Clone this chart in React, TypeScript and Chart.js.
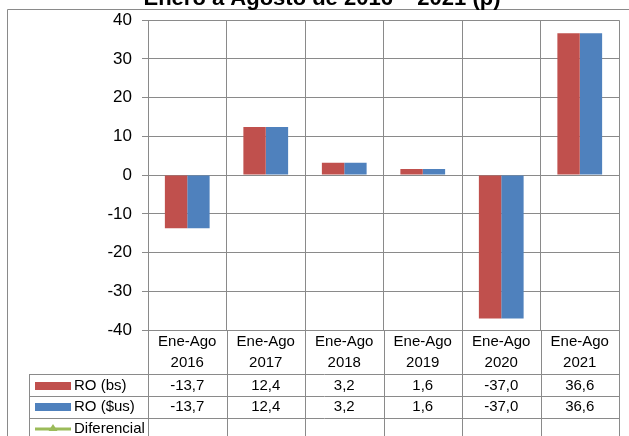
import React, { useEffect, useRef } from 'react';
import { Chart, registerables } from 'chart.js';

Chart.register(...registerables);

const titleText = 'Enero a Agosto de 2016 – 2021 (p)';
const periodLabel = 'Ene-Ago';
const years = ['2016', '2017', '2018', '2019', '2020', '2021'];
const roBs = [-13.7, 12.4, 3.2, 1.6, -37.0, 36.6];
const roUs = [-13.7, 12.4, 3.2, 1.6, -37.0, 36.6];
const diferencial: (number | null)[] = [null, null, null, null, null, null];
const seriesNames = ['RO (bs)', 'RO ($us)', 'Diferencial'];
const seriesColors = ['#C0504D', '#4F81BD', '#9BBB59'];

const FONT = '"Liberation Sans", Arial, sans-serif';
const GRID = '#8a8a8a';

const fmt = (v: number | null) => (v === null ? '' : v.toFixed(1).replace('.', ','));

const tablePlugin = {
  id: 'dataTable',
  afterDraw(chart: any) {
    const ctx = chart.ctx as CanvasRenderingContext2D;
    const area = chart.chartArea;
    const n = years.length;
    const step = (area.right - area.left) / n;
    const px = (v: number) => Math.round(v) + 0.5;
    const H = chart.height;
    const W = chart.width;
    ctx.save();
    // outer frame
    ctx.strokeStyle = GRID;
    ctx.lineWidth = 1;
    ctx.beginPath();
    ctx.moveTo(px(7), H);
    ctx.lineTo(px(7), px(9));
    ctx.lineTo(W, px(9));
    ctx.stroke();

    // title (cut at top)
    ctx.fillStyle = '#000';
    ctx.font = `bold 22px ${FONT}`;
    ctx.textAlign = 'center';
    ctx.textBaseline = 'alphabetic';
    ctx.fillText(titleText, 322, 4.5);

    // table grid
    const rowTop = area.bottom;
    const rows = [374, 396, 418];
    const legendLeft = 29;
    ctx.strokeStyle = GRID;
    ctx.beginPath();
    for (let i = 0; i <= n; i++) {
      const x = px(area.left + step * i);
      ctx.moveTo(x, rowTop);
      ctx.lineTo(x, H);
    }
    rows.forEach((y) => {
      ctx.moveTo(legendLeft, px(y));
      ctx.lineTo(px(area.right) + 0.5, px(y));
    });
    ctx.moveTo(px(legendLeft), px(rows[0]));
    ctx.lineTo(px(legendLeft), H);
    ctx.stroke();

    // header
    ctx.font = `15px ${FONT}`;
    ctx.textBaseline = 'middle';
    ctx.textAlign = 'center';
    ctx.fillStyle = '#000';
    for (let i = 0; i < n; i++) {
      const cx = area.left + step * (i + 0.5);
      ctx.fillText(periodLabel, cx, 342);
      ctx.fillText(years[i], cx, 363);
    }
    const rowData = [roBs, roUs, diferencial];
    const rowCenters = [386, 407, 429];
    rowData.forEach((arr, r) => {
      for (let i = 0; i < n; i++) {
        const cx = area.left + step * (i + 0.5);
        ctx.fillText(fmt(arr[i] as any), cx, rowCenters[r]);
      }
    });

    // legend keys
    ctx.textAlign = 'left';
    rowCenters.forEach((cy, r) => {
      if (r < 2) {
        ctx.fillStyle = seriesColors[r];
        ctx.fillRect(35, cy - 4, 36, 8);
      } else {
        ctx.strokeStyle = seriesColors[r];
        ctx.lineWidth = 3;
        ctx.beginPath();
        ctx.moveTo(35, cy);
        ctx.lineTo(71, cy);
        ctx.stroke();
        ctx.fillStyle = seriesColors[r];
        ctx.beginPath();
        ctx.moveTo(53, cy - 5);
        ctx.lineTo(57.5, cy + 2);
        ctx.lineTo(48.5, cy + 2);
        ctx.closePath();
        ctx.fill();
      }
      ctx.fillStyle = '#000';
      ctx.fillText(seriesNames[r], 74, cy);
    });
    ctx.restore();
  },
};

export default function App() {
  const ref = useRef<HTMLCanvasElement>(null);
  useEffect(() => {
    if (!ref.current) return;
    const chart = new Chart(ref.current, {
      type: 'bar',
      data: {
        labels: years.map((y) => `${periodLabel} ${y}`),
        datasets: [
          {
            type: 'bar',
            label: seriesNames[0],
            data: roBs,
            backgroundColor: seriesColors[0],
            categoryPercentage: 0.57,
            barPercentage: 1,
          },
          {
            type: 'bar',
            label: seriesNames[1],
            data: roUs,
            backgroundColor: seriesColors[1],
            categoryPercentage: 0.57,
            barPercentage: 1,
          },
          {
            type: 'line',
            label: seriesNames[2],
            data: diferencial,
            borderColor: seriesColors[2],
            backgroundColor: seriesColors[2],
            pointStyle: 'triangle',
          } as any,
        ],
      },
      options: {
        animation: false,
        responsive: false,
        layout: { padding: { top: 20, right: 10, left: 0, bottom: 0 } },
        plugins: { legend: { display: false }, tooltip: { enabled: false }, title: { display: false } },
        scales: {
          x: {
            ticks: { display: false },
            grid: { color: GRID, drawTicks: false, offset: true },
            border: { color: GRID },
            afterFit: (s: any) => {
              s.height = 106;
            },
          },
          y: {
            min: -40,
            max: 40,
            ticks: { stepSize: 10, color: '#000', font: { family: FONT, size: 17 }, padding: 10 },
            grid: { color: GRID, tickLength: 6 },
            border: { color: GRID },
            afterFit: (s: any) => {
              s.width = 148;
            },
          },
        },
      },
      plugins: [tablePlugin],
    });
    return () => chart.destroy();
  }, []);
  return (
    <div style={{ position: 'absolute', left: 0, top: 0, width: 629, height: 436, background: '#fff' }}>
      <canvas ref={ref} width={629} height={436} />
    </div>
  );
}
